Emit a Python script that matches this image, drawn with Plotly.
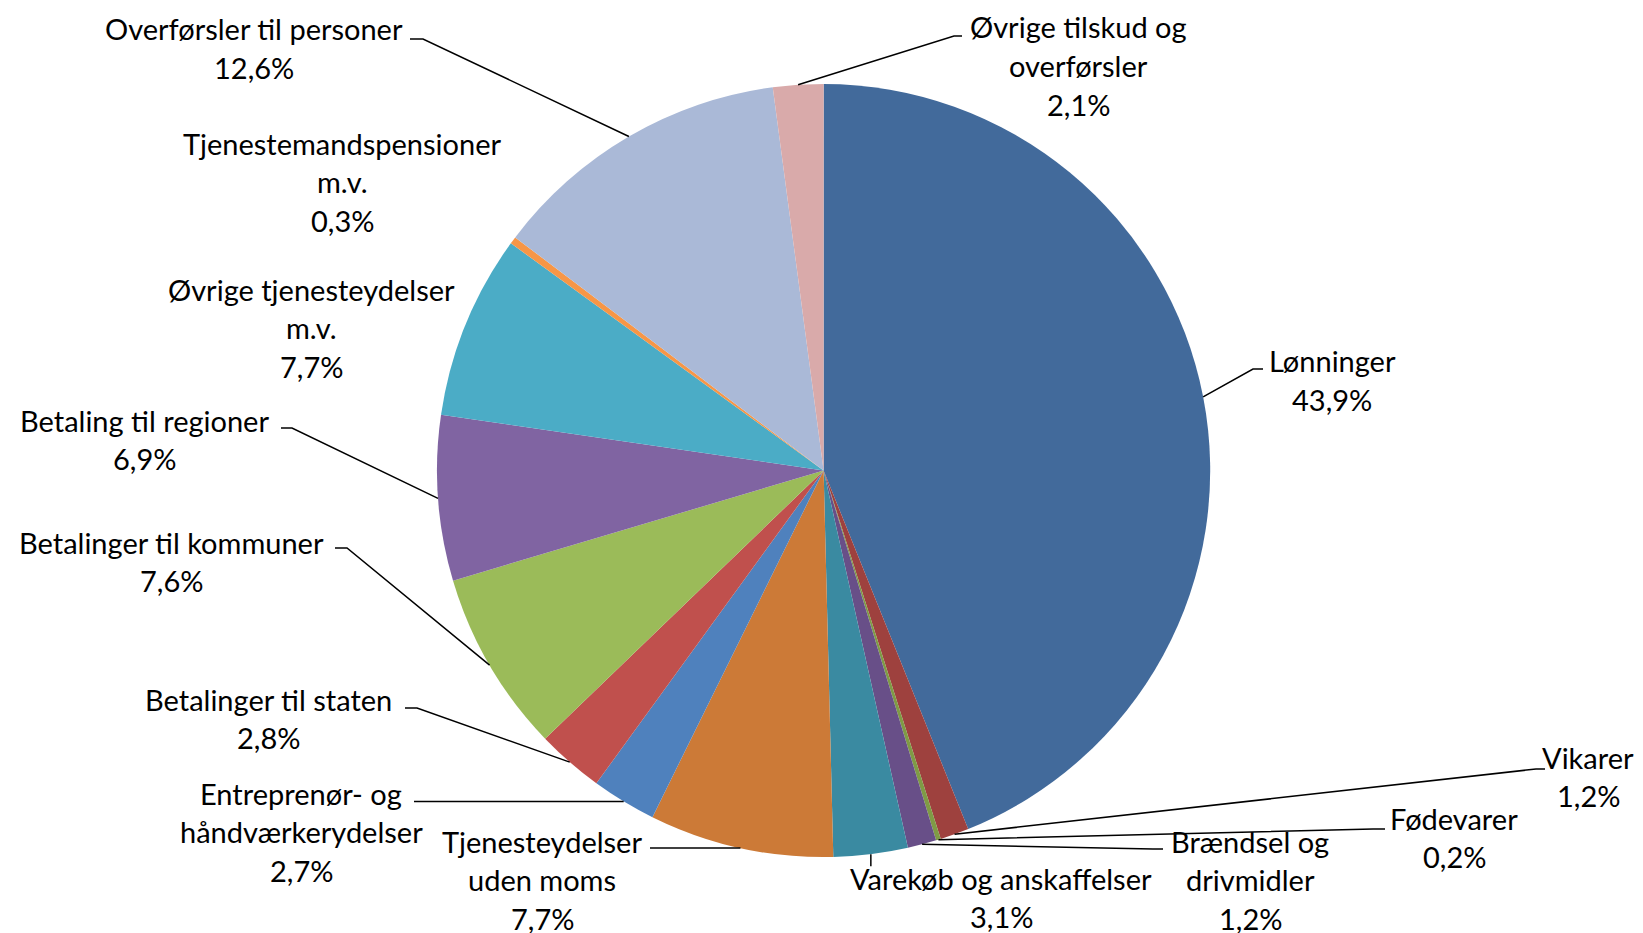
import math
import plotly.graph_objects as go

# slices, clockwise from 12 o'clock
labels = ["Lønninger", "Vikarer", "Fødevarer", "Brændsel og drivmidler",
          "Varekøb og anskaffelser", "Tjenesteydelser uden moms",
          "Entreprenør- og håndværkerydelser", "Betalinger til staten",
          "Betalinger til kommuner", "Betaling til regioner",
          "Øvrige tjenesteydelser m.v.", "Tjenestemandspensioner m.v.",
          "Overførsler til personer", "Øvrige tilskud og overførsler"]
shares = [43.9, 1.2, 0.2, 1.2, 3.1, 7.7, 2.7, 2.8, 7.6, 6.9, 7.7, 0.3, 12.6, 2.1]

# how the label text is broken in the picture
label_lines = [["Lønninger"], ["Vikarer"], ["Fødevarer"], ["Brændsel og", "drivmidler"],
               ["Varekøb og anskaffelser"], ["Tjenesteydelser", "uden moms"],
               ["Entreprenør- og", "håndværkerydelser"], ["Betalinger til staten"],
               ["Betalinger til kommuner"], ["Betaling til regioner"],
               ["Øvrige tjenesteydelser", "m.v."], ["Tjenestemandspensioner", "m.v."],
               ["Overførsler til personer"], ["Øvrige tilskud og", "overførsler"]]

colors = ["#426A9B", "#9E413E", "#7F9B45", "#684F88", "#3A8AA1", "#CC7A37",
          "#4F81BD", "#C0504D", "#9BBB59", "#8064A2", "#4BACC6", "#F79646",
          "#AAB9D7", "#D9AAAA"]

W, H = 1643, 933
OFF = 8  # page body margin
CX, CY, R = 823.6, 470.5, 386.6
LINE_H = 38.8
FONT = dict(family="Lato, Open Sans, sans-serif", size=29, color="black")

# label placement in pixels: centre x, first line y, leader path (ends at label side)
placement = [
    (1332, 361, [(1253, 369), (1263, 369)]),
    (1588, 757, [(1536, 769), (1545, 769)]),
    (1454, 818, [(1373, 829), (1385, 829)]),
    (1250, 841, [(1153, 849), (1163, 849)]),
    (1001, 878, "down"),
    (542, 841, "horiz650"),
    (301, 793, "horiz414"),
    (268, 699, [(417, 708), (405, 708)]),
    (171, 542, [(347, 548), (335, 548)]),
    (144, 420, [(292, 428), (281, 428)]),
    (311, 289, None),
    (342, 143, None),
    (254, 29, [(423, 39), (410, 39)]),
    (1078, 27, [(954, 36), (962, 36)]),
]


def px(x):
    return (x - OFF) / W


def py(y):
    return 1 - (y - OFF) / H


fig = go.Figure(go.Pie(
    labels=labels,
    values=shares,
    sort=False,
    direction="clockwise",
    rotation=0,
    marker=dict(colors=colors, line=dict(width=0)),
    textinfo="none",
    hovertemplate="%{label}: %{value}%<extra></extra>",
    domain=dict(x=[px(CX - R), px(CX + R)], y=[py(CY + R), py(CY - R)]),
    showlegend=False,
))

annotations = []
shapes = []
cum = 0.0
total = sum(shares)
for name_lines, v, (lx, ly, path) in zip(label_lines, shares, placement):
    mid = (cum + v / 2) / total * 2 * math.pi
    cum += v
    ex, ey = CX + R * math.sin(mid), CY - R * math.cos(mid)

    text_lines = name_lines + [f"{v:.1f}%".replace(".", ",")]
    for i, t in enumerate(text_lines):
        annotations.append(dict(x=px(lx), y=py(ly + i * LINE_H), xref="paper", yref="paper",
                                text=t, showarrow=False, xanchor="center", yanchor="middle",
                                font=FONT))

    if path is None:
        continue
    if path == "down":
        pts = [(ex, ey), (ex, ey + 12)]
    elif isinstance(path, str):
        pts = [(ex, ey), (float(path[5:]), ey)]
    else:
        pts = [(ex, ey)] + path
    d = "M " + " L ".join(f"{px(a)},{py(b)}" for a, b in pts)
    shapes.append(dict(type="path", path=d, xref="paper", yref="paper",
                       line=dict(color="black", width=1.5)))

fig.update_layout(
    width=W, height=H,
    margin=dict(l=0, r=0, t=0, b=0),
    paper_bgcolor="white",
    plot_bgcolor="white",
    annotations=annotations,
    shapes=shapes,
)

fig.write_html("out.html")
